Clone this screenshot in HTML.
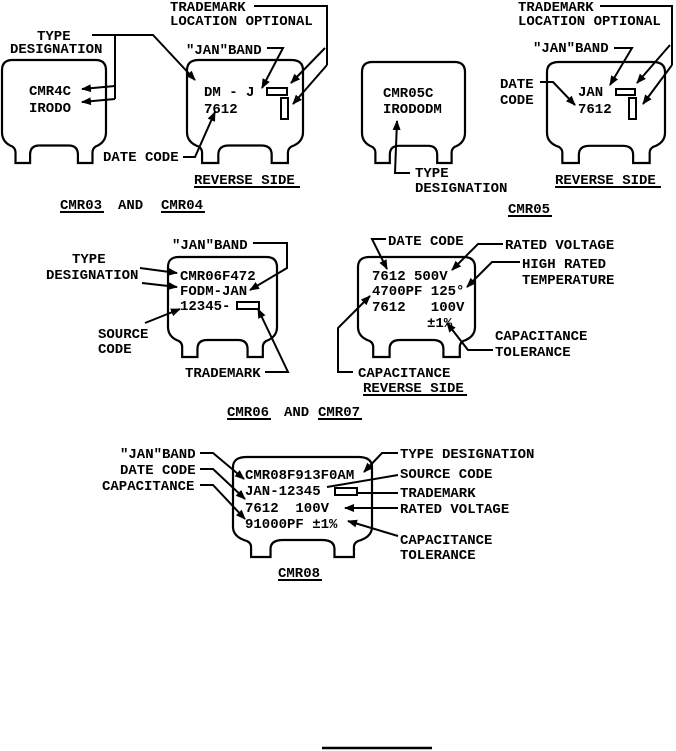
<!DOCTYPE html>
<html><head><meta charset="utf-8"><style>
html,body{margin:0;padding:0;background:#fff;}
svg{display:block;}
text{font-family:"Liberation Mono",monospace;font-weight:bold;font-size:14px;fill:#000;white-space:pre;}
</style></head><body>
<svg width="676" height="751" viewBox="0 0 676 751" xmlns="http://www.w3.org/2000/svg" xml:space="preserve">
<defs>
<marker id="a" markerWidth="10" markerHeight="8" refX="9" refY="4" orient="auto" markerUnits="userSpaceOnUse">
<path d="M0,0 L10,4 L0,8 Z" fill="#000"/></marker>
<path id="cap" d="M0,10 Q0,0 10,0 H90 Q100,0 100,10 V70 Q100,80 90,84 Q87,86 87,90 V100 H73 V92 Q73,83 64,83 H36 Q27,83 27,92 V100 H13 V90 Q13,86 10,84 Q0,80 0,70 Z" fill="none" stroke="#000" stroke-width="2.2" vector-effect="non-scaling-stroke"/>
</defs>
<g fill="none" stroke="#000" stroke-width="2">
<use href="#cap" transform="translate(2,60) scale(1.04,1.03)"/>
<use href="#cap" transform="translate(187,60) scale(1.16,1.03)"/>
<use href="#cap" transform="translate(362,62) scale(1.03,1.01)"/>
<use href="#cap" transform="translate(547,62) scale(1.18,1.01)"/>
<use href="#cap" transform="translate(168,257) scale(1.09,1.0)"/>
<use href="#cap" transform="translate(358,257) scale(1.17,1.0)"/>
<use href="#cap" transform="translate(233,457) scale(1.39,1.0)"/>

<polyline points="92,35 153,35 195,80" marker-end="url(#a)"/>
<polyline points="115,35 115,99"/>
<line x1="115" y1="86" x2="82" y2="89" marker-end="url(#a)"/>
<line x1="115" y1="99" x2="82" y2="102" marker-end="url(#a)"/>
<polyline points="254,6 327,6 327,65"/>
<line x1="325" y1="48" x2="291" y2="83" marker-end="url(#a)"/>
<line x1="327" y1="65" x2="293" y2="104" marker-end="url(#a)"/>
<polyline points="267,48 283,48 262,88" marker-end="url(#a)"/>
<rect x="267" y="88" width="20" height="7"/>
<rect x="281" y="98" width="7" height="21"/>
<polyline points="183,157 195,157 215,112" marker-end="url(#a)"/>
<polyline points="410,173 395,173 397,121" marker-end="url(#a)"/>
<polyline points="600,6 672,6 672,65"/>
<line x1="670" y1="45" x2="637" y2="83" marker-end="url(#a)"/>
<line x1="672" y1="65" x2="643" y2="104" marker-end="url(#a)"/>
<polyline points="614,48 632,48 610,85" marker-end="url(#a)"/>
<polyline points="540,82 553,82 575,105" marker-end="url(#a)"/>
<rect x="616" y="89" width="19" height="6"/>
<rect x="629" y="98" width="7" height="21"/>
<polyline points="253,243 287,243 287,268 250,290" marker-end="url(#a)"/>
<line x1="140" y1="268" x2="177" y2="273" marker-end="url(#a)"/>
<line x1="142" y1="283" x2="177" y2="287" marker-end="url(#a)"/>
<rect x="237" y="302" width="22" height="7"/>
<line x1="145" y1="323" x2="180" y2="309" marker-end="url(#a)"/>
<polyline points="265,372 288,372 258,309" marker-end="url(#a)"/>
<polyline points="386,239 372,239 387,269" marker-end="url(#a)"/>
<polyline points="503,244 478,244 452,270" marker-end="url(#a)"/>
<polyline points="520,262 492,262 467,287" marker-end="url(#a)"/>
<polyline points="353,372 338,372 338,328 370,296" marker-end="url(#a)"/>
<polyline points="493,350 468,350 447,323" marker-end="url(#a)"/>
<polyline points="200,453 213,453 244,479" marker-end="url(#a)"/>
<polyline points="200,469 213,469 245,499" marker-end="url(#a)"/>
<polyline points="200,485 213,485 245,519" marker-end="url(#a)"/>
<polyline points="398,453 382,453 364,472" marker-end="url(#a)"/>
<line x1="398" y1="475" x2="327" y2="487"/>
<rect x="335" y="488" width="22" height="7"/>
<line x1="398" y1="493" x2="357" y2="493"/>
<line x1="398" y1="508" x2="345" y2="508" marker-end="url(#a)"/>
<line x1="398" y1="536" x2="348" y2="521" marker-end="url(#a)"/>
<line x1="322" y1="748" x2="432" y2="748" stroke-width="2.5"/>
<line x1="194" y1="187" x2="300" y2="187"/>
<line x1="60" y1="212" x2="104" y2="212"/>
<line x1="161" y1="212" x2="205" y2="212"/>
<line x1="508" y1="216" x2="552" y2="216"/>
<line x1="555" y1="187" x2="661" y2="187"/>
<line x1="363" y1="395" x2="467" y2="395"/>
<line x1="227" y1="419" x2="271" y2="419"/>
<line x1="318" y1="419" x2="362" y2="419"/>
<line x1="278" y1="580" x2="322" y2="580"/>
</g>

<text x="170" y="11">TRADEMARK</text>
<text x="170" y="25">LOCATION OPTIONAL</text>
<text x="37" y="40">TYPE</text>
<text x="10" y="53">DESIGNATION</text>
<text x="29" y="95">CMR4C</text>
<text x="29" y="112">IRODO</text>
<text x="186" y="54">"JAN"BAND</text>
<text x="204" y="96">DM - J</text>
<text x="204" y="113">7612</text>
<text x="103" y="161">DATE CODE</text>
<text x="194" y="184">REVERSE SIDE</text>
<text x="60" y="209">CMR03</text>
<text x="118" y="209">AND</text>
<text x="161" y="209">CMR04</text>

<text x="383" y="97">CMR05C</text>
<text x="383" y="113">IRODODM</text>
<text x="415" y="177">TYPE</text>
<text x="415" y="192">DESIGNATION</text>
<text x="508" y="213">CMR05</text>
<text x="518" y="11">TRADEMARK</text>
<text x="518" y="25">LOCATION OPTIONAL</text>
<text x="533" y="52">"JAN"BAND</text>
<text x="500" y="88">DATE</text>
<text x="500" y="104">CODE</text>
<text x="578" y="96">JAN</text>
<text x="578" y="113">7612</text>
<text x="555" y="184">REVERSE SIDE</text>

<text x="172" y="249">"JAN"BAND</text>
<text x="72" y="263">TYPE</text>
<text x="46" y="279">DESIGNATION</text>
<text x="180" y="280">CMR06F472</text>
<text x="180" y="295">FODM-JAN</text>
<text x="180" y="310">12345-</text>
<text x="98" y="338">SOURCE</text>
<text x="98" y="353">CODE</text>
<text x="185" y="377">TRADEMARK</text>

<text x="388" y="245">DATE CODE</text>
<text x="505" y="249">RATED VOLTAGE</text>
<text x="522" y="268">HIGH RATED</text>
<text x="522" y="284">TEMPERATURE</text>
<text x="372" y="280">7612 500V</text>
<text x="372" y="295">4700PF 125°</text>
<text x="372" y="311">7612   100V</text>
<text x="427" y="327">±1%</text>
<text x="495" y="340">CAPACITANCE</text>
<text x="495" y="356">TOLERANCE</text>
<text x="358" y="377">CAPACITANCE</text>
<text x="363" y="392">REVERSE SIDE</text>
<text x="227" y="416">CMR06</text>
<text x="284" y="416">AND</text>
<text x="318" y="416">CMR07</text>

<text x="120" y="458">"JAN"BAND</text>
<text x="120" y="474">DATE CODE</text>
<text x="102" y="490">CAPACITANCE</text>
<text x="245" y="479">CMR08F913F0AM</text>
<text x="245" y="495">JAN-12345</text>
<text x="245" y="512">7612  100V</text>
<text x="245" y="528">91000PF ±1%</text>
<text x="400" y="458">TYPE DESIGNATION</text>
<text x="400" y="478">SOURCE CODE</text>
<text x="400" y="497">TRADEMARK</text>
<text x="400" y="513">RATED VOLTAGE</text>
<text x="400" y="544">CAPACITANCE</text>
<text x="400" y="559">TOLERANCE</text>
<text x="278" y="577">CMR08</text>
</svg>
</body></html>
